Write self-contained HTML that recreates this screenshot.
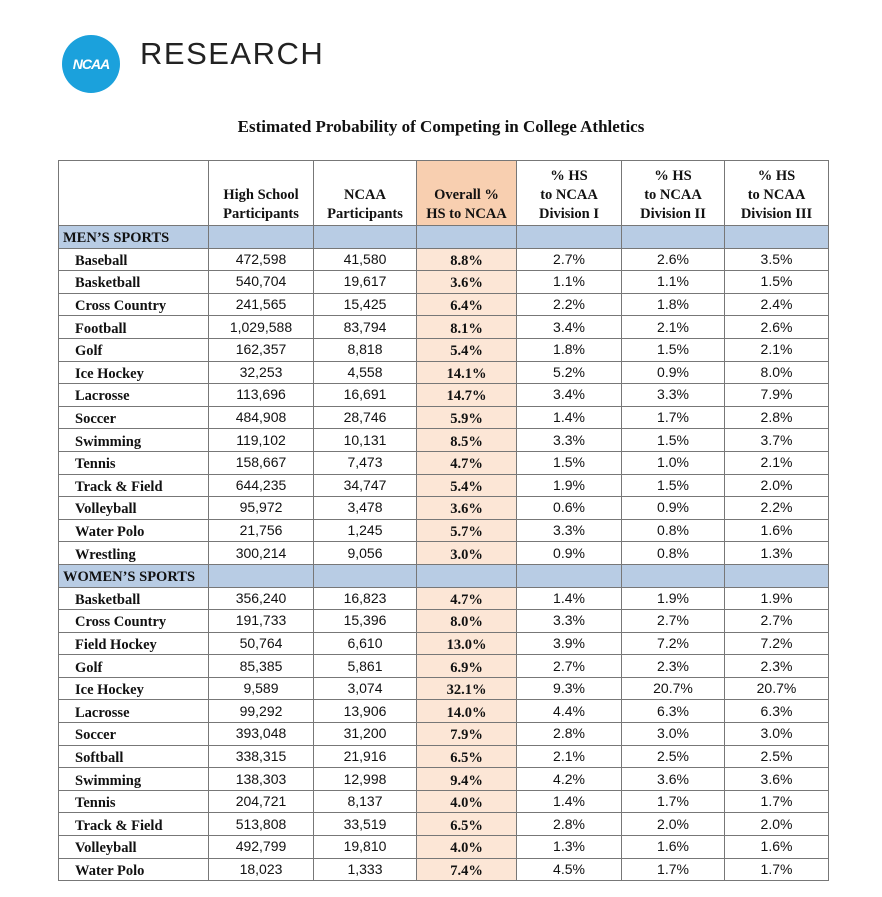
<!DOCTYPE html>
<html><head><meta charset="utf-8"><style>
body{margin:0;background:#fff;width:882px;height:897px;position:relative;overflow:hidden}
.logo{position:absolute;left:62px;top:35px;width:58px;height:58px;border-radius:50%;background:#1ba1dc;color:#fff;font:italic bold 14px "Liberation Sans",sans-serif;text-align:center;line-height:58px;letter-spacing:-1px}
.res{position:absolute;left:140px;top:36px;font:31px "Liberation Sans",sans-serif;color:#222;letter-spacing:1.5px}
.title{position:absolute;left:0;width:882px;top:117px;text-align:center;font:bold 17px "Liberation Serif",serif;color:#111}
table{position:absolute;left:58px;top:160px;border-collapse:collapse;table-layout:fixed;width:770px}
td{border:1px solid #777;padding:0;height:21.6px;font:14px/21px "Liberation Sans",sans-serif;text-align:center;color:#111;vertical-align:middle}
td.n{font:bold 14.5px/21px "Liberation Serif",serif;text-align:left;padding-left:16px}
td span{display:inline-block;line-height:21px;vertical-align:top;position:relative;top:2px}
tr.h td{height:63px;font:bold 14.5px "Liberation Serif",serif;vertical-align:bottom;line-height:19px;padding-bottom:1px}
tr.s td{background:#b8cce4}
tr.s td.n{padding-left:4px}
td.o{background:#fce6d6;font:bold 14.5px/21px "Liberation Serif",serif}
tr.h td.o{background:#f8cfb0}
tr.s td.o{background:#b8cce4}
</style></head><body>
<div class="logo">NCAA</div>
<div class="res">RESEARCH</div>
<div class="title">Estimated Probability of Competing in College Athletics</div>
<table>
<colgroup><col style="width:150px"><col style="width:105px"><col style="width:103px"><col style="width:100px"><col style="width:105px"><col style="width:103px"><col style="width:104px"></colgroup>
<tr class="h"><td></td><td>High School<br>Participants</td><td>NCAA<br>Participants</td><td class="o">Overall %<br>HS to NCAA</td><td>% HS<br>to NCAA<br>Division I</td><td>% HS<br>to NCAA<br>Division II</td><td>% HS<br>to NCAA<br>Division III</td></tr>
<tr class="s"><td class="n"><span>MEN’S SPORTS</span></td><td></td><td></td><td class="o"></td><td></td><td></td><td></td></tr>
<tr><td class="n"><span>Baseball</span></td><td>472,598</td><td>41,580</td><td class="o"><span>8.8%</span></td><td>2.7%</td><td>2.6%</td><td>3.5%</td></tr>
<tr><td class="n"><span>Basketball</span></td><td>540,704</td><td>19,617</td><td class="o"><span>3.6%</span></td><td>1.1%</td><td>1.1%</td><td>1.5%</td></tr>
<tr><td class="n"><span>Cross Country</span></td><td>241,565</td><td>15,425</td><td class="o"><span>6.4%</span></td><td>2.2%</td><td>1.8%</td><td>2.4%</td></tr>
<tr><td class="n"><span>Football</span></td><td>1,029,588</td><td>83,794</td><td class="o"><span>8.1%</span></td><td>3.4%</td><td>2.1%</td><td>2.6%</td></tr>
<tr><td class="n"><span>Golf</span></td><td>162,357</td><td>8,818</td><td class="o"><span>5.4%</span></td><td>1.8%</td><td>1.5%</td><td>2.1%</td></tr>
<tr><td class="n"><span>Ice Hockey</span></td><td>32,253</td><td>4,558</td><td class="o"><span>14.1%</span></td><td>5.2%</td><td>0.9%</td><td>8.0%</td></tr>
<tr><td class="n"><span>Lacrosse</span></td><td>113,696</td><td>16,691</td><td class="o"><span>14.7%</span></td><td>3.4%</td><td>3.3%</td><td>7.9%</td></tr>
<tr><td class="n"><span>Soccer</span></td><td>484,908</td><td>28,746</td><td class="o"><span>5.9%</span></td><td>1.4%</td><td>1.7%</td><td>2.8%</td></tr>
<tr><td class="n"><span>Swimming</span></td><td>119,102</td><td>10,131</td><td class="o"><span>8.5%</span></td><td>3.3%</td><td>1.5%</td><td>3.7%</td></tr>
<tr><td class="n"><span>Tennis</span></td><td>158,667</td><td>7,473</td><td class="o"><span>4.7%</span></td><td>1.5%</td><td>1.0%</td><td>2.1%</td></tr>
<tr><td class="n"><span>Track &amp; Field</span></td><td>644,235</td><td>34,747</td><td class="o"><span>5.4%</span></td><td>1.9%</td><td>1.5%</td><td>2.0%</td></tr>
<tr><td class="n"><span>Volleyball</span></td><td>95,972</td><td>3,478</td><td class="o"><span>3.6%</span></td><td>0.6%</td><td>0.9%</td><td>2.2%</td></tr>
<tr><td class="n"><span>Water Polo</span></td><td>21,756</td><td>1,245</td><td class="o"><span>5.7%</span></td><td>3.3%</td><td>0.8%</td><td>1.6%</td></tr>
<tr><td class="n"><span>Wrestling</span></td><td>300,214</td><td>9,056</td><td class="o"><span>3.0%</span></td><td>0.9%</td><td>0.8%</td><td>1.3%</td></tr>
<tr class="s"><td class="n"><span>WOMEN’S SPORTS</span></td><td></td><td></td><td class="o"></td><td></td><td></td><td></td></tr>
<tr><td class="n"><span>Basketball</span></td><td>356,240</td><td>16,823</td><td class="o"><span>4.7%</span></td><td>1.4%</td><td>1.9%</td><td>1.9%</td></tr>
<tr><td class="n"><span>Cross Country</span></td><td>191,733</td><td>15,396</td><td class="o"><span>8.0%</span></td><td>3.3%</td><td>2.7%</td><td>2.7%</td></tr>
<tr><td class="n"><span>Field Hockey</span></td><td>50,764</td><td>6,610</td><td class="o"><span>13.0%</span></td><td>3.9%</td><td>7.2%</td><td>7.2%</td></tr>
<tr><td class="n"><span>Golf</span></td><td>85,385</td><td>5,861</td><td class="o"><span>6.9%</span></td><td>2.7%</td><td>2.3%</td><td>2.3%</td></tr>
<tr><td class="n"><span>Ice Hockey</span></td><td>9,589</td><td>3,074</td><td class="o"><span>32.1%</span></td><td>9.3%</td><td>20.7%</td><td>20.7%</td></tr>
<tr><td class="n"><span>Lacrosse</span></td><td>99,292</td><td>13,906</td><td class="o"><span>14.0%</span></td><td>4.4%</td><td>6.3%</td><td>6.3%</td></tr>
<tr><td class="n"><span>Soccer</span></td><td>393,048</td><td>31,200</td><td class="o"><span>7.9%</span></td><td>2.8%</td><td>3.0%</td><td>3.0%</td></tr>
<tr><td class="n"><span>Softball</span></td><td>338,315</td><td>21,916</td><td class="o"><span>6.5%</span></td><td>2.1%</td><td>2.5%</td><td>2.5%</td></tr>
<tr><td class="n"><span>Swimming</span></td><td>138,303</td><td>12,998</td><td class="o"><span>9.4%</span></td><td>4.2%</td><td>3.6%</td><td>3.6%</td></tr>
<tr><td class="n"><span>Tennis</span></td><td>204,721</td><td>8,137</td><td class="o"><span>4.0%</span></td><td>1.4%</td><td>1.7%</td><td>1.7%</td></tr>
<tr><td class="n"><span>Track &amp; Field</span></td><td>513,808</td><td>33,519</td><td class="o"><span>6.5%</span></td><td>2.8%</td><td>2.0%</td><td>2.0%</td></tr>
<tr><td class="n"><span>Volleyball</span></td><td>492,799</td><td>19,810</td><td class="o"><span>4.0%</span></td><td>1.3%</td><td>1.6%</td><td>1.6%</td></tr>
<tr><td class="n"><span>Water Polo</span></td><td>18,023</td><td>1,333</td><td class="o"><span>7.4%</span></td><td>4.5%</td><td>1.7%</td><td>1.7%</td></tr>
</table>
</body></html>
